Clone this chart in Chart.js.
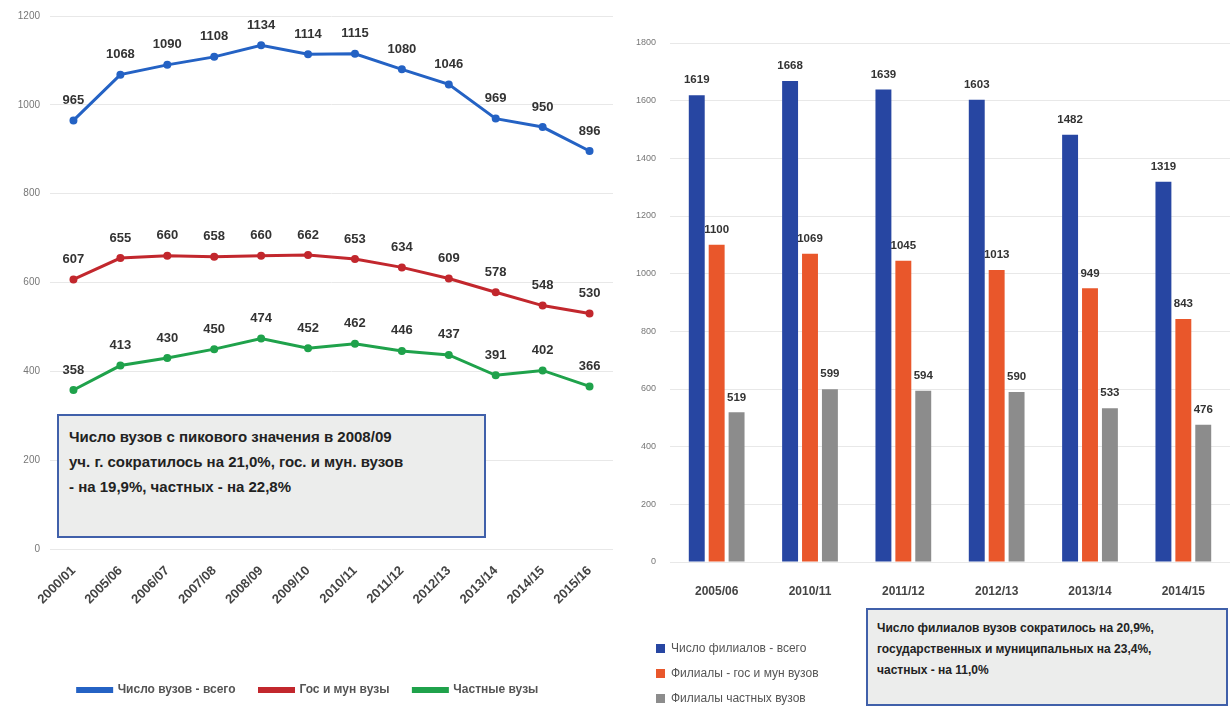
<!DOCTYPE html>
<html>
<head>
<meta charset="utf-8">
<script src="https://cdn.jsdelivr.net/npm/chart.js@4/dist/chart.umd.min.js"></script>
<style>
  body { margin: 0; background: #fff; width: 1230px; height: 706px; overflow: hidden; position: relative; font-family: "Liberation Sans", Arial, sans-serif; }
  #left { position: absolute; left: 0; top: 0; }
  #right { position: absolute; left: 620px; top: 0; }
  .note { position: absolute; background: #ecedec; border: 2px solid #4060aa; color: #222; font-weight: bold; box-sizing: border-box; white-space: nowrap; }
  #note1 { left: 57px; top: 414px; width: 429px; height: 124px; font-size: 15px; line-height: 25px; padding: 8px 10px; }
  #note2 { left: 866px; top: 608px; width: 362px; height: 98px; font-size: 12px; line-height: 21px; padding: 8px 9px; }
  #legend2 { position: absolute; left: 656px; top: 640px; font-size: 12px; color: #555; }
  #legend2 div { height: 25px; line-height: 16px; }
  #legend2 span { display: inline-block; width: 9px; height: 9px; margin-right: 6px; vertical-align: -1px; }
</style>
</head>
<body>
<canvas id="left" width="620" height="706"></canvas>
<canvas id="right" width="610" height="706"></canvas>
<div class="note" id="note1">Число вузов с пикового значения  в 2008/09<br>уч. г. сократилось на  21,0%, гос. и мун. вузов<br>- на 19,9%, частных - на  22,8%</div>
<div id="legend2"></div>
<div class="note" id="note2">Число филиалов  вузов сократилось на 20,9%,<br>государственных и муниципальных на  23,4%,<br>частных - на 11,0%</div>
<script>
// левый график - число вузов
const years = ['2000/01', '2005/06', '2006/07', '2007/08', '2008/09', '2009/10', '2010/11', '2011/12', '2012/13', '2013/14', '2014/15', '2015/16'];
const vuzTotal = [965, 1068, 1090, 1108, 1134, 1114, 1115, 1080, 1046, 969, 950, 896];
const vuzGos = [607, 655, 660, 658, 660, 662, 653, 634, 609, 578, 548, 530];
const vuzPrivate = [358, 413, 430, 450, 474, 452, 462, 446, 437, 391, 402, 366];

// правый график - филиалы
const branchYears = ['2005/06', '2010/11', '2011/12', '2012/13', '2013/14', '2014/15'];
const branchTotal = [1619, 1668, 1639, 1603, 1482, 1319];
const branchGos = [1100, 1069, 1045, 1013, 949, 843];
const branchPrivate = [519, 599, 594, 590, 533, 476];

const font = '"Liberation Sans", Arial, sans-serif';

// подписи значений над точками / столбцами
const valueLabels = {
    id: 'valueLabels',
    afterDatasetsDraw(chart, args, opts) {
        const ctx = chart.ctx;
        ctx.save();
        ctx.font = 'bold ' + opts.size + 'px ' + font;
        ctx.fillStyle = '#333';
        ctx.textAlign = 'center';
        ctx.textBaseline = 'middle';
        chart.data.datasets.forEach((ds, i) => {
            chart.getDatasetMeta(i).data.forEach((el, j) => {
                ctx.fillText(ds.data[j], el.x, el.y - opts.offset);
            });
        });
        ctx.restore();
    }
};

function lineSet(label, data, color) {
    return {
        label: label,
        data: data,
        borderColor: color,
        backgroundColor: color,
        borderWidth: 3,
        pointRadius: 2.5,
        pointBackgroundColor: color,
        tension: 0
    };
}

const plainTick = v => String(v);

new Chart(document.getElementById('left'), {
    type: 'line',
    data: {
        labels: years,
        datasets: [
            lineSet('Число вузов - всего', vuzTotal, '#2462c4'),
            lineSet('Гос и мун вузы', vuzGos, '#c2272d'),
            lineSet('Частные вузы', vuzPrivate, '#1fa24b')
        ]
    },
    plugins: [valueLabels],
    options: {
        responsive: false,
        animation: false,
        layout: { padding: { top: 15, right: 4, bottom: 0, left: 0 } },
        plugins: {
            valueLabels: { size: 13, offset: 20 },
            tooltip: { enabled: false },
            legend: {
                position: 'bottom',
                labels: {
                    boxWidth: 34,
                    boxHeight: 3,
                    padding: 24,
                    color: '#555',
                    font: { family: font, size: 12, weight: 'bold' }
                }
            }
        },
        scales: {
            x: {
                offset: true,
                grid: { display: false },
                border: { display: false },
                ticks: { minRotation: 45, maxRotation: 45, padding: 6, color: '#444', font: { family: font, size: 13, weight: 'bold' } },
                afterFit(scale) { scale.height = 111; }
            },
            y: {
                min: 0,
                max: 1200,
                grid: { color: '#e8e8e8', drawTicks: false },
                border: { display: false },
                ticks: { stepSize: 200, padding: 10, color: '#777', font: { family: font, size: 10 }, callback: plainTick },
                afterFit(scale) { scale.width = 50; }
            }
        }
    }
});

const barColors = ['#2746a2', '#e9572b', '#8c8c8c'];
const barNames = ['Число филиалов - всего', 'Филиалы - гос и мун вузов', 'Филиалы частных вузов'];
const barData = [branchTotal, branchGos, branchPrivate];

new Chart(document.getElementById('right'), {
    type: 'bar',
    data: {
        labels: branchYears,
        datasets: barData.map((d, i) => ({
            label: barNames[i],
            data: d,
            backgroundColor: barColors[i],
            categoryPercentage: 0.64,
            barPercentage: 0.8
        }))
    },
    plugins: [valueLabels],
    options: {
        responsive: false,
        animation: false,
        layout: { padding: { top: 43, right: 0, bottom: 0, left: 0 } },
        plugins: {
            valueLabels: { size: 11.5, offset: 15 },
            tooltip: { enabled: false },
            legend: { display: false }
        },
        scales: {
            x: {
                grid: { display: false },
                border: { display: false },
                ticks: { padding: 14, color: '#444', font: { family: font, size: 12, weight: 'bold' } },
                afterFit(scale) { scale.height = 144; }
            },
            y: {
                min: 0,
                max: 1800,
                grid: { color: '#e8e8e8', drawTicks: false },
                border: { display: false },
                ticks: { stepSize: 200, padding: 14, color: '#777', font: { family: font, size: 9 }, callback: plainTick },
                afterFit(scale) { scale.width = 50; }
            }
        }
    }
});

const legend2 = document.getElementById('legend2');
barNames.forEach((name, i) => {
    const row = document.createElement('div');
    row.innerHTML = '<span style="background:' + barColors[i] + '"></span>' + name;
    legend2.appendChild(row);
});
</script>
</body>
</html>
